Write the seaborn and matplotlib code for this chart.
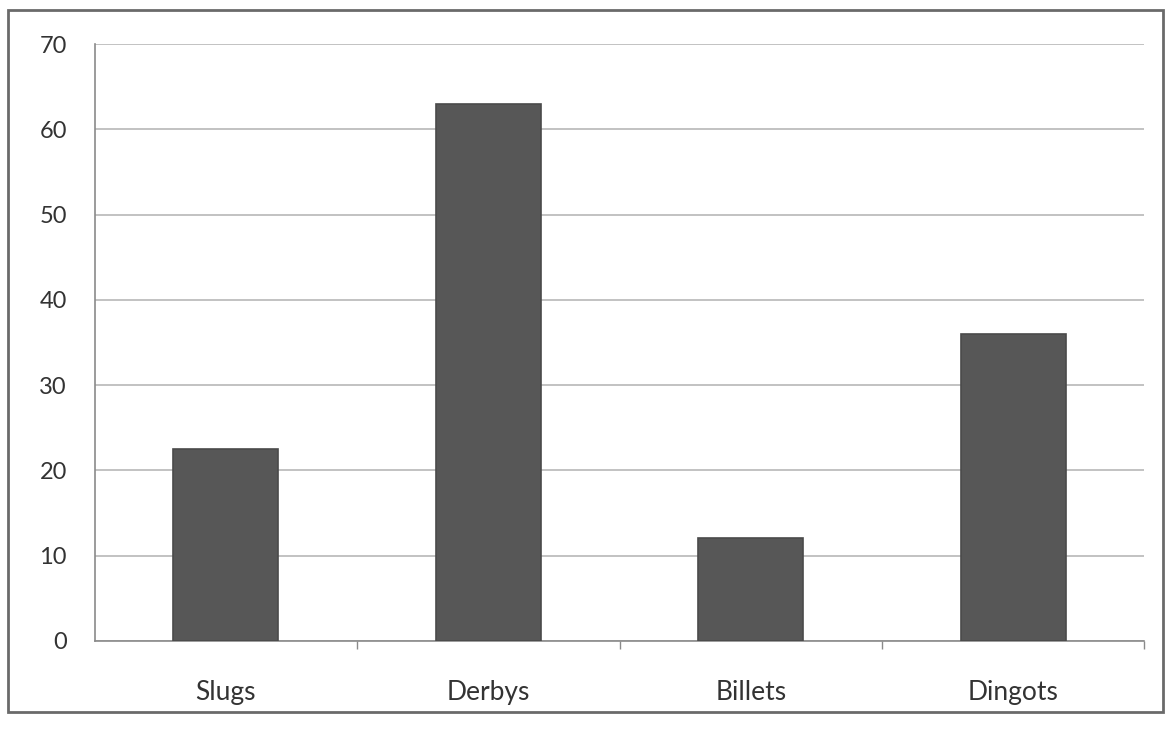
import matplotlib
matplotlib.use("Agg")
import matplotlib.pyplot as plt
import seaborn as sns
import pandas as pd
from matplotlib.patches import Rectangle

categories = ["Slugs", "Derbys", "Billets", "Dingots"]
values = [22.5, 63, 12, 36]
y_ticks = [0, 10, 20, 30, 40, 50, 60, 70]

sns.set_theme(style="white")
plt.rcParams["font.family"] = ["Lato", "DejaVu Sans"]

df = pd.DataFrame({"category": categories, "value": values})

fig = plt.figure(figsize=(11.69, 7.34), dpi=100)
ax = fig.add_axes([0.081, 0.127, 0.898, 0.813])

sns.barplot(data=df, x="category", y="value", color="#575757", width=0.4,
            saturation=1, ax=ax, edgecolor="#4a4a4a", linewidth=1.2, zorder=3)

ax.set_ylim(0, 70)
ax.set_yticks(y_ticks)
ax.set_xlim(-0.5, 3.5)
ax.set_xlabel("")
ax.set_ylabel("")
ax.yaxis.grid(True, color="#b8b8b8", linewidth=1.2, zorder=0)
ax.xaxis.grid(False)

for side in ["top", "right"]:
    ax.spines[side].set_visible(False)
ax.spines["left"].set_color("#8a8a8a")
ax.spines["bottom"].set_color("#8a8a8a")
ax.spines["left"].set_linewidth(1.2)
ax.spines["bottom"].set_linewidth(1.2)

ax.tick_params(axis="y", labelsize=17, colors="#333333", pad=14, left=False)
ax.tick_params(axis="x", labelsize=19, colors="#333333", pad=22, bottom=False)

# category separators on the x axis
ax.set_xticks([0.5, 1.5, 2.5, 3.5], minor=True)
ax.tick_params(axis="x", which="minor", bottom=True, length=6, color="#8a8a8a", width=1)

# chart area frame
fig.patches.append(Rectangle((8 / 1169, 22 / 734), 1155 / 1169, 702 / 734,
                             transform=fig.transFigure, fill=False,
                             edgecolor="#6a6a6a", linewidth=2))

fig.savefig("out.png", dpi=100, facecolor="white")
